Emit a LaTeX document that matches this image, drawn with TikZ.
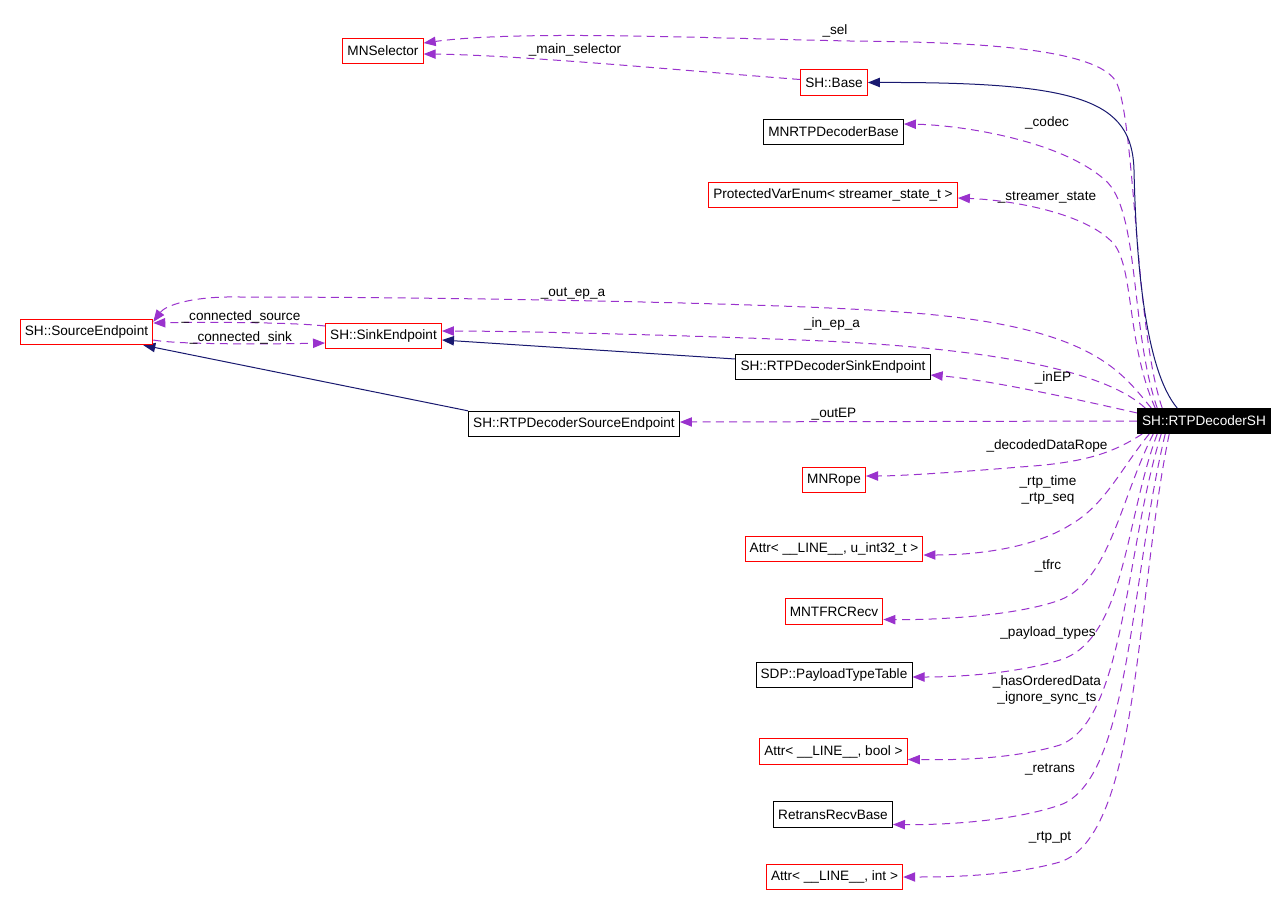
\documentclass[tikz,border=0pt]{standalone}
\usepackage{fontspec}
\setmainfont{Liberation Sans}
\usetikzlibrary{arrows.meta,calc}
\definecolor{purp}{HTML}{9A32CD}
\definecolor{navyb}{HTML}{191970}
\definecolor{redb}{HTML}{FF0000}
\pgfdeclarelayer{background}
\pgfsetlayers{background,main}
\begin{document}
\begin{tikzpicture}[x=0.75pt,y=-0.75pt,
  every node/.style={font=\fontsize{10.2}{12}\selectfont},
  cls/.style={draw=redb,line width=0.75pt,minimum height=19pt,inner xsep=3.5pt,inner ysep=0pt,fill=white},
  clsb/.style={cls,draw=black},
  focus/.style={fill=black,text=white,minimum height=19pt,inner xsep=3.5pt,inner ysep=0pt},
  use/.style={draw=purp,line width=0.75pt,dash pattern=on 6pt off 4pt,-{Triangle[length=9pt,width=7pt]}},
  inh/.style={draw=navyb,line width=0.75pt,-{Triangle[length=9pt,width=7pt]}},
  lbl/.style={inner sep=0pt,align=center}]
\useasboundingbox (0,0) rectangle (1288,907);
% classes
\node[cls,draw=redb] (mnsel) at (383,51) {MNSelector};
\node[cls] (base) at (834,82.5) {SH::Base};
\node[clsb] (codec) at (833.5,132) {MNRTPDecoderBase};
\node[cls] (pve) at (833,195) {ProtectedVarEnum< streamer\_state\_t >};
\node[cls] (src) at (86.5,332) {SH::SourceEndpoint};
\node[cls] (sink) at (383.5,336) {SH::SinkEndpoint};
\node[clsb] (rsink) at (833,367) {SH::RTPDecoderSinkEndpoint};
\node[clsb] (rsrc) at (574,424) {SH::RTPDecoderSourceEndpoint};
\node[focus] (sh) at (1204,421) {SH::RTPDecoderSH};
\node[cls] (rope) at (834,480) {MNRope};
\node[cls] (a32) at (834,549) {Attr< \_\_LINE\_\_, u\_int32\_t >};
\node[cls] (tfrc) at (834,611.5) {MNTFRCRecv};
\node[clsb] (sdp) at (834,675) {SDP::PayloadTypeTable};
\node[cls] (abool) at (833.5,751.5) {Attr< \_\_LINE\_\_, bool >};
\node[clsb] (retr) at (833,814.5) {RetransRecvBase};
\node[cls] (aint) at (834.5,877) {Attr< \_\_LINE\_\_, int >};
% labels
\node[lbl] (l1) at (835,31) {\_sel};
\node[lbl] (l2) at (575,50) {\_main\_selector};
\node[lbl] (l3) at (1047,123) {\_codec};
\node[lbl] (l4) at (1047,197) {\_streamer\_state};
\node[lbl] (l5) at (573,294) {\_out\_ep\_a};
\node[lbl] (l6) at (832,324) {\_in\_ep\_a};
\node[lbl] (l7) at (241,317) {\_connected\_source};
\node[lbl] (l8) at (241,338) {\_connected\_sink};
\node[lbl] (l9) at (1053,378) {\_inEP};
\node[lbl] (l10) at (834,414) {\_outEP};
\node[lbl] (l11) at (1047,446) {\_decodedDataRope};
\node[lbl] (l12) at (1048,490) {\_rtp\_time\\\_rtp\_seq};
\node[lbl] (l13) at (1048,566) {\_tfrc};
\node[lbl] (l14) at (1048,633) {\_payload\_types};
\node[lbl] (l15) at (1047,690) {\_hasOrderedData\\\_ignore\_sync\_ts};
\node[lbl] (l16) at (1050,769) {\_retrans};
\node[lbl] (l17) at (1050,838) {\_rtp\_pt};
\begin{pgfonlayer}{background}
\fill[white] (0,0) rectangle (1288,907);
% _sel
\draw[use] ($(sh.north west)+(25,0)$) .. controls (1135,330) and (1135,110) .. (1115,80) .. controls (1090,45) and (950,42) .. (850,41) .. controls (700,38) and (520,30) .. ($(mnsel.east)+(0,-8)$);
% _main_selector
\draw[use] ($(base.west)+(0,-3)$) .. controls (700,72) and (520,55) .. ($(mnsel.east)+(0,3)$);
% inheritance SH::Base
\draw[inh] ($(sh.north west)+(40,0)$) .. controls (1145,370) and (1136,260) .. (1134,170) .. controls (1132,100) and (1080,82) .. (base.east);
% _codec
\draw[use] ($(sh.north west)+(20,0)$) .. controls (1130,330) and (1140,210) .. (1105,180) .. controls (1060,140) and (960,125) .. ($(codec.east)+(0,-8)$);
% _streamer_state
\draw[use] ($(sh.north west)+(18,0)$) .. controls (1125,340) and (1135,260) .. (1110,240) .. controls (1080,212) and (1010,200) .. ($(pve.east)+(0,3)$);
% _out_ep_a
\draw[use] ($(sh.north west)+(14,0)$) .. controls (1120,370) and (1090,325) .. (900,312) .. controls (780,303) and (450,297) .. (240,297) .. controls (190,296) and (165,306) .. ($(src.north east)+(0,3)$);
% _in_ep_a
\draw[use] ($(sh.north west)+(8,0)$) .. controls (1110,375) and (1010,348) .. (800,340) .. controls (650,334) and (500,331) .. ($(sink.east)+(0,-5)$);
% inheritance SinkEndpoint
\draw[inh] ($(rsink.west)+(0,-8)$) -- ($(sink.east)+(0,4)$);
% _inEP
\draw[use] ($(sh.west)+(0,-8)$) .. controls (1080,400) and (990,380) .. ($(rsink.east)+(0,8)$);
% _outEP
\draw[use] (sh.west) -- ($(rsrc.east)+(0,-2)$);
% inheritance SourceEndpoint
\draw[inh] (rsrc.north west) -- ($(src.south east)+(-10,0)$);
% _connected_source
\draw[use] ($(sink.west)+(0,-10)$) .. controls (290,322) and (200,322) .. ($(src.east)+(0,-9)$);
% _connected_sink
\draw[use] ($(src.east)+(0,8)$) .. controls (180,345) and (280,344) .. ($(sink.west)+(0,7)$);
% _decodedDataRope
\draw[use] ($(sh.south west)+(5,0)$) .. controls (1110,455) and (1080,463) .. (1020,467) .. controls (960,472) and (900,476) .. ($(rope.east)+(0,-4)$);
% _rtp_time _rtp_seq
\draw[use] ($(sh.south west)+(12,0)$) .. controls (1120,470) and (1105,505) .. (1070,525) .. controls (1030,550) and (970,555) .. ($(a32.east)+(0,6)$);
% _tfrc
\draw[use] ($(sh.south west)+(16,0)$) .. controls (1120,500) and (1110,580) .. (1060,600) .. controls (1010,618) and (920,620) .. ($(tfrc.east)+(0,8)$);
% _payload_types
\draw[use] ($(sh.south west)+(20,0)$) .. controls (1125,520) and (1125,640) .. (1060,660) .. controls (1010,675) and (950,677) .. ($(sdp.east)+(0,2)$);
% _hasOrderedData _ignore_sync_ts
\draw[use] ($(sh.south west)+(24,0)$) .. controls (1125,550) and (1125,720) .. (1060,745) .. controls (1010,760) and (950,760) .. ($(abool.east)+(0,8)$);
% _retrans
\draw[use] ($(sh.south west)+(28,0)$) .. controls (1130,580) and (1130,780) .. (1060,805) .. controls (1010,822) and (940,825) .. ($(retr.east)+(0,10)$);
% _rtp_pt
\draw[use] ($(sh.south west)+(32,0)$) .. controls (1135,600) and (1140,835) .. (1060,862) .. controls (1010,876) and (950,877) .. (aint.east);
\end{pgfonlayer}
\end{tikzpicture}
\end{document}
